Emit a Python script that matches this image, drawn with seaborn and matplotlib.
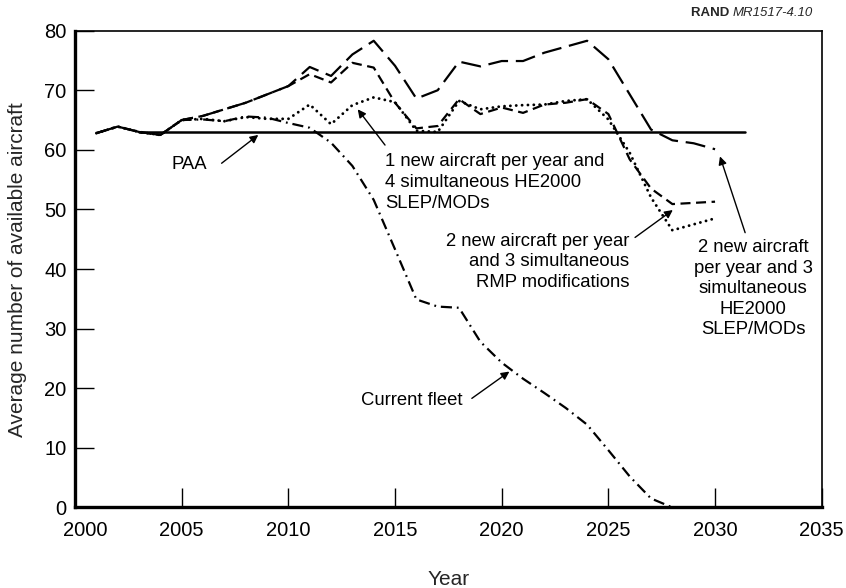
import matplotlib
matplotlib.use("Agg")
import matplotlib.pyplot as plt
import matplotlib.transforms as mtransforms
import seaborn as sns

# values
years = list(range(2001, 2031))
he2000_2new = [62.8, 63.9, 63.0, 62.5, 65.0, 65.7, 66.8, 67.9, 69.3, 70.7,
               73.9, 72.4, 76.0, 78.3, 74.1, 68.6, 70.0, 74.8, 74.0, 74.9,
               74.9, 76.3, 77.3, 78.3, 75.2, 69.3, 63.4, 61.6, 61.1, 60.1]
rmp_2new = [62.8, 63.9, 63.0, 62.5, 65.0, 65.7, 66.8, 67.9, 69.3, 70.7,
            72.7, 71.3, 74.6, 73.8, 67.9, 63.6, 64.0, 68.5, 66.0, 67.1,
            66.2, 67.6, 67.9, 68.5, 66.0, 58.4, 53.5, 50.9, 51.1, 51.3]
he2000_1new = [62.8, 63.9, 63.0, 62.5, 65.0, 65.2, 64.8, 65.5, 65.2, 65.2,
               67.6, 64.3, 67.5, 68.8, 68.0, 63.2, 63.0, 68.2, 66.8, 67.3,
               67.5, 67.6, 68.2, 68.5, 65.1, 59.5, 52.0, 46.5, 47.5, 48.5]
current_fleet = [62.8, 63.9, 63.0, 62.5, 65.0, 65.1, 64.8, 65.6, 65.4, 64.5,
                 63.7, 61.2, 57.3, 51.6, 43.3, 34.9, 33.7, 33.5, 27.8, 24.3,
                 21.6, 19.2, 16.7, 13.9, 9.6, 5.2, 1.5, 0.0, 0.0, 0.0]
paa_years = [2003, 2031.4]
paa_values = [63, 63]

sns.set_style("white")
plt.rcParams['font.family'] = ['Liberation Sans', 'DejaVu Sans']

fig = plt.figure(figsize=(8.46, 5.88), dpi=100)
ax = fig.add_axes([0.0887, 0.137, 0.8826, 0.8109])

lw = 1.6
sns.lineplot(x=years, y=he2000_2new, ax=ax, color='black', lw=lw,
             linestyle=(0, (9, 3.5)))
sns.lineplot(x=years, y=rmp_2new, ax=ax, color='black', lw=lw,
             linestyle=(0, (4.5, 2.5)))
sns.lineplot(x=years, y=he2000_1new, ax=ax, color='black', lw=lw + 0.5,
             linestyle=(0, (0.01, 2.0)), dash_capstyle='round')
sns.lineplot(x=years, y=current_fleet, ax=ax, color='black', lw=lw,
             linestyle=(0, (5, 2.2, 0.8, 2.2)))
sns.lineplot(x=paa_years, y=paa_values, ax=ax, color='black', lw=1.8)

ax.set_xlim(2000, 2035)
ax.set_ylim(0, 80)
ax.set_xticks(range(2000, 2036, 5))
ax.set_yticks(range(0, 81, 10))
ax.tick_params(axis='both', direction='in', length=14, width=1,
               labelsize=14.5, colors='black', bottom=True, left=True)
ax.tick_params(axis='y', pad=6)
ax.tick_params(axis='x', pad=10)
# first year label sits a bit to the right, clear of the "0"
first = ax.get_xticklabels()[0]
first.set_transform(first.get_transform() +
                    mtransforms.ScaledTranslation(10 / 100, 0, fig.dpi_scale_trans))

ax.spines['left'].set_linewidth(2.4)
ax.spines['bottom'].set_linewidth(2.4)
ax.spines['top'].set_linewidth(1.2)
ax.spines['right'].set_linewidth(1.2)
for s in ['left', 'bottom', 'top', 'right']:
    ax.spines[s].set_color('black')

ax.set_xlabel("Year", fontsize=15)
ax.xaxis.set_label_coords(0.5, -0.131)
ax.set_ylabel("Average number of available aircraft", fontsize=15)
ax.yaxis.set_label_coords(-0.064, 0.498)

arrow = dict(arrowstyle='-|>', color='black', lw=1, mutation_scale=12,
             shrinkA=0, shrinkB=0)
txt = dict(fontsize=13.3, color='black')

ax.text(2006.2, 57.5, "PAA", ha='right', va='center', **txt)
ax.annotate("", xy=(2008.59, 62.5), xytext=(2006.87, 57.75), arrowprops=arrow)

ax.text(2014.53, 54.5, "1 new aircraft per year and\n4 simultaneous HE2000\nSLEP/MODs",
        ha='left', va='center', linespacing=1.28, **txt)
ax.annotate("", xy=(2013.25, 66.8), xytext=(2014.53, 60.8), arrowprops=arrow)

ax.text(2025.97, 41.2, "2 new aircraft per year\nand 3 simultaneous\nRMP modifications",
        ha='right', va='center', multialignment='right', linespacing=1.28, **txt)
ax.annotate("", xy=(2028.02, 49.9), xytext=(2026.25, 45.3), arrowprops=arrow)

ax.text(2031.78, 36.7, "2 new aircraft\nper year and 3\nsimultaneous\nHE2000\nSLEP/MODs",
        ha='center', va='center', multialignment='center', linespacing=1.28, **txt)
ax.annotate("", xy=(2030.23, 58.9), xytext=(2031.41, 46.1), arrowprops=arrow)

ax.text(2018.14, 18.0, "Current fleet", ha='right', va='center', **txt)
ax.annotate("", xy=(2020.36, 22.8), xytext=(2018.6, 18.3), arrowprops=arrow)

# source tag, top right
tag = fig.text(0.961, 0.978, "MR1517-4.10", ha='right', va='center',
               fontsize=9.5, style='italic')
ax.annotate("RAND ", xy=(0, 0.5), xycoords=tag, ha='right', va='center',
            fontsize=9.5, fontweight='bold')

fig.savefig("out.png", dpi=100)
